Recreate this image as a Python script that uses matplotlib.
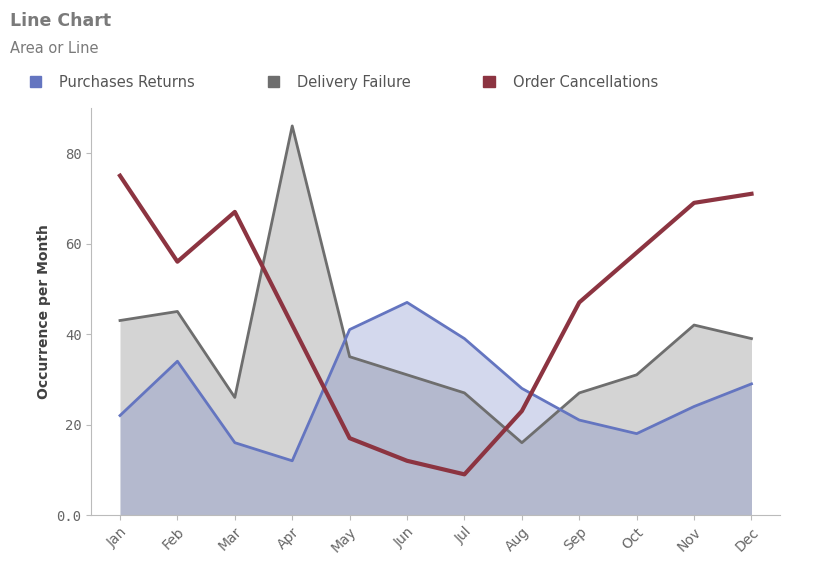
import matplotlib.pyplot as plt
from matplotlib.patches import Patch

months = ['Jan', 'Feb', 'Mar', 'Apr', 'May', 'Jun', 'Jul', 'Aug', 'Sep', 'Oct', 'Nov', 'Dec']
purchases_returns = [22, 34, 16, 12, 41, 47, 39, 28, 21, 18, 24, 29]
delivery_failure = [43, 45, 26, 86, 35, 31, 27, 16, 27, 31, 42, 39]
order_cancellations = [75, 56, 67, 42, 17, 12, 9, 23, 47, 58, 69, 71]

c_pur = '#6475c0'
c_del = '#6e6e6e'
c_ord = '#8c3441'

fig = plt.figure(figsize=(8.3, 5.86), dpi=100)
ax = fig.add_axes([0.11, 0.121, 0.83, 0.695])
x = list(range(len(months)))

ax.fill_between(x, delivery_failure, color='#d4d4d4', lw=0)
ax.fill_between(x, purchases_returns, color=c_pur, alpha=0.28, lw=0)
ax.plot(x, delivery_failure, color=c_del, lw=2)
ax.plot(x, purchases_returns, color=c_pur, lw=2)
ax.plot(x, order_cancellations, color=c_ord, lw=3)

ax.set_xlim(-0.5, 11.5)
ax.set_ylim(0, 90)
ax.set_yticks([0, 20, 40, 60, 80])
ax.set_yticklabels(['0.0', '20', '40', '60', '80'], family='DejaVu Sans Mono', color='#666666', fontsize=10)
ax.set_xticks(x)
ax.set_xticklabels(months, rotation=45, ha='right', rotation_mode='anchor', color='#666666', fontsize=10)
ax.set_ylabel('Occurrence per Month', fontsize=10, fontweight='bold', color='#404040')
for s in ['top', 'right']:
    ax.spines[s].set_visible(False)
for s in ['left', 'bottom']:
    ax.spines[s].set_color('#bbbbbb')
ax.tick_params(colors='#bbbbbb', labelcolor='#666666')

fig.text(0.012, 0.955, 'Line Chart', fontsize=12.5, fontweight='bold', color='#7a7a7a')
fig.text(0.012, 0.91, 'Area or Line', fontsize=10.5, color='#7a7a7a')

handles = [Patch(color=c_pur), Patch(color=c_del), Patch(color=c_ord)]
fig.legend(handles, ['Purchases Returns', 'Delivery Failure', 'Order Cancellations'],
           loc='upper left', bbox_to_anchor=(0.02, 0.895), ncol=3, frameon=False,
           handlelength=0.8, handleheight=0.8, columnspacing=5.0, handletextpad=1.2,
           labelcolor='#555555', fontsize=10.5)

plt.savefig('out.png', dpi=100)
